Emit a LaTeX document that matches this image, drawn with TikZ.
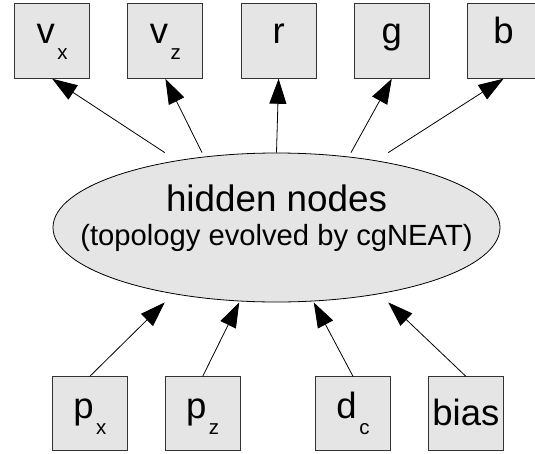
\documentclass[tikz,border=0pt]{standalone}
\usepackage{fontspec}
\setmainfont{Liberation Sans}
\usepackage{tikz}
\usetikzlibrary{arrows.meta,positioning,shapes.geometric}

% lowered index after a variable name
\newcommand\lowsub[1]{\kern2.5pt\raisebox{-16pt}{\fontsize{20.5}{20.5}\selectfont #1}}

\begin{document}
\begin{tikzpicture}[x=1pt,y=-1pt,
      outbox/.style={
         rectangle,
         draw=black!80,
         fill=black!10,
         line width=0.9pt,
         inner sep=0pt,
         minimum width=75pt,
         minimum height=75pt,
         text height=20pt,
         text depth=15pt,
         font=\fontsize{36.5}{36.5}\selectfont},
      inbox/.style={
         outbox,
         minimum height=74pt,
         text height=25pt,
         text depth=16pt},
      hidden/.style={
         ellipse,
         draw=black,
         fill=black!10,
         line width=0.8pt,
         inner xsep=-40pt,
         inner ysep=0pt,
         minimum width=447pt,
         minimum height=149pt,
         align=center,
         font=\fontsize{29.2}{33.3}\selectfont},
      myarrow/.style={-{Triangle[length=25pt,width=17pt]}, line width=0.8pt},
      node distance=37.3pt
      ]
      \useasboundingbox (0,0) rectangle (535,453);

      % outputs
      \node[outbox] (vx) at (52.2,40.8) {v\lowsub{x}};
      \node[outbox,right=of vx] (vz) {v\lowsub{z}};
      \node[outbox,right=of vz] (r) {r};
      \node[outbox,right=of r] (g) {g};
      \node[outbox,right=of g,minimum width=72pt] (b) {b};

      \node[hidden] (hid) at (276.5,227.5)
         {{\fontsize{36.8}{36.8}\selectfont hidden nodes}\\
          (topology evolved by cgNEAT)\rule[-24.5pt]{0pt}{24.5pt}};

      % inputs
      \node[inbox] (px) at (89.8,413.8) {p\lowsub{x}};
      \node[inbox,right=37pt of px] (pz) {p\lowsub{z}};
      \node[inbox,right=74.4pt of pz] (dc) {d\lowsub{c}};
      \node[inbox,right=37pt of dc,text depth=2.6pt] (bias) {bias};

    \foreach \dx/\j in {% shift on the ellipse/output node
      -111.75/vx, -74.5/vz, 0/r, 74.5/g, 111.75/b}
       \draw [myarrow] ([xshift=\dx pt]hid.north) -- (\j.south);

    \foreach \i/\dx in {% input node/shift on the ellipse
      px/-111.75, pz/-37.25, dc/37.25, bias/111.75}
       \draw [myarrow] (\i.north) -- ([xshift=\dx pt]hid.south);
    \end{tikzpicture}
\end{document}
